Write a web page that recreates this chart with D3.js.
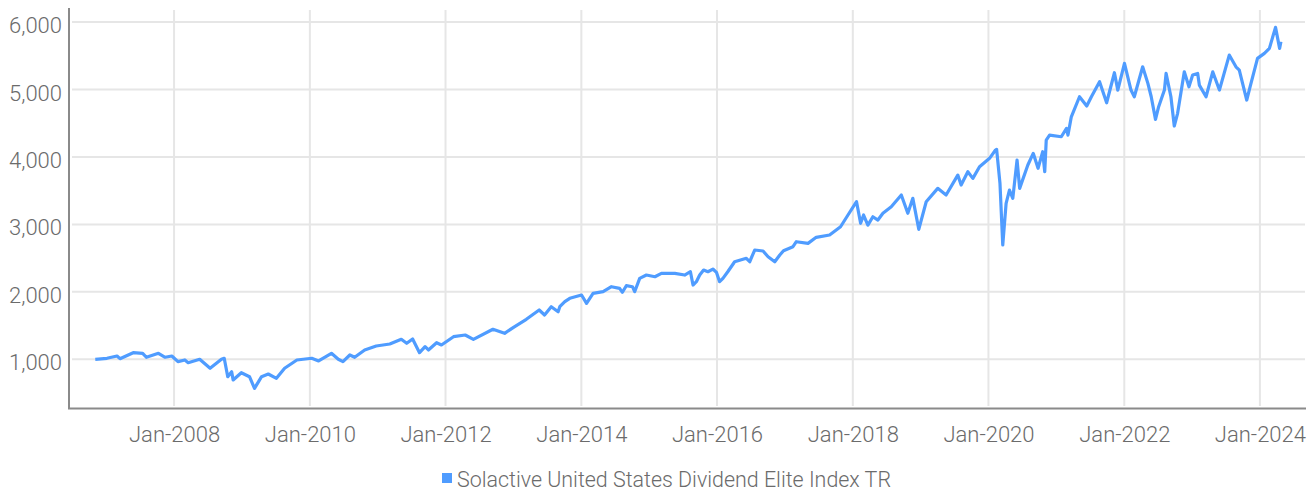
<!DOCTYPE html>
<html>
<head>
<meta charset="utf-8">
<script src="https://cdn.jsdelivr.net/npm/d3@7"></script>
<style>
  html, body { margin: 0; padding: 0; background: #fff; }
  svg { display: block; }
  text { font-family: Roboto, "Noto Sans", sans-serif; font-weight: 300; fill: #6b6b6b; }
</style>
</head>
<body>
<svg id="chart" width="1314" height="491"></svg>
<script>
const seriesName = "Solactive United States Dividend Elite Index TR";
const dates = [
"2006-11-03","2007-01-05","2007-02-28","2007-03-16","2007-05-26","2007-07-16","2007-08-05","2007-10-09","2007-11-14","2007-12-20",
"2008-01-22","2008-02-28","2008-03-17","2008-05-18","2008-07-13","2008-09-12","2008-09-27","2008-10-16","2008-11-06","2008-11-14",
"2008-12-28","2009-02-10","2009-03-09","2009-04-16","2009-05-22","2009-07-05","2009-08-18","2009-10-23","2010-01-11","2010-02-17",
"2010-04-27","2010-06-03","2010-06-28","2010-08-04","2010-08-30","2010-10-23","2010-12-24","2011-03-07","2011-05-08","2011-06-06",
"2011-07-08","2011-08-14","2011-09-13","2011-10-01","2011-11-14","2011-12-10","2012-02-13","2012-04-16","2012-05-30","2012-09-12",
"2012-11-14","2013-01-01","2013-03-11","2013-05-19","2013-06-17","2013-07-23","2013-08-29",
"2013-09-07","2013-10-04","2013-10-31","2014-01-02","2014-01-29","2014-03-05","2014-04-28","2014-06-12","2014-07-26","2014-08-10",
"2014-08-31","2014-10-03","2014-10-15","2014-11-11","2014-12-17","2015-02-01","2015-03-08","2015-05-19","2015-07-11","2015-08-11",
"2015-08-25","2015-09-12","2015-09-30","2015-10-21","2015-11-13","2015-12-10","2015-12-29","2016-01-15","2016-02-02","2016-02-28",
"2016-04-05","2016-06-07","2016-06-25","2016-07-22","2016-09-05","2016-10-02","2016-11-07","2016-12-04",
"2016-12-24","2017-02-13","2017-03-03","2017-05-05","2017-06-18","2017-08-29",
"2017-10-27","2017-12-06","2018-01-21","2018-02-12","2018-02-28","2018-03-23","2018-04-19","2018-05-16","2018-06-12","2018-07-27",
"2018-09-19","2018-10-24","2018-11-20","2018-12-22","2019-01-31","2019-04-03","2019-05-18","2019-07-20","2019-08-07","2019-09-12",
"2019-10-09","2019-11-14","2020-01-07","2020-02-08","2020-02-14",
"2020-03-03","2020-03-18","2020-04-05","2020-04-23","2020-05-11",
"2020-06-03","2020-06-17","2020-07-31","2020-08-29","2020-09-24","2020-10-19","2020-10-30",
"2020-11-07","2020-11-25","2021-01-27","2021-02-24","2021-03-04","2021-03-22","2021-05-05","2021-06-13","2021-07-08","2021-08-21",
"2021-09-28","2021-11-09","2021-11-27","2022-01-02","2022-02-06","2022-02-24","2022-04-10","2022-05-08","2022-05-26","2022-06-18",
"2022-07-05","2022-08-05","2022-08-14","2022-09-09","2022-09-27","2022-10-15","2022-11-20","2022-12-15","2023-01-04","2023-01-31",
"2023-02-09","2023-03-17","2023-04-22","2023-05-28","2023-07-20","2023-08-25","2023-09-12","2023-10-22","2023-11-09","2023-12-19",
"2024-01-25","2024-02-21","2024-03-25","2024-04-16","2024-04-23"
];
const values = [
1000,1015,1049,1009,1098,1089,1030,1089,1030,1049,
965,990,950,1000,867,1000,1015,742,816,693,
801,742,570,742,782,718,867,990,1015,975,
1089,1000,965,1064,1030,1138,1197,1227,1296,1237,
1301,1098,1187,1138,1246,1212,1335,1360,1296,1445,
1385,1474,1593,1731,1657,1780,1705,
1780,1854,1904,1953,1830,1978,2002,2076,2052,1993,
2091,2076,2002,2200,2249,2224,2274,2274,2249,2298,
2101,2150,2249,2323,2298,2338,2289,2150,2200,2298,
2446,2497,2446,2620,2605,2521,2446,2546,
2610,2669,2743,2719,2808,2842,
2965,3139,3336,3016,3139,2990,3113,3064,3164,3262,
3435,3164,3386,2927,3336,3534,3435,3731,3583,3780,
3682,3854,3979,4102,4112,
3608,2694,3312,3509,3386,
3954,3534,3880,4053,3831,4077,3780,
4250,4324,4299,4423,4324,4595,4892,4754,4892,5114,
4803,5248,4991,5387,4991,4892,5336,5090,4892,4557,
4744,4991,5238,4892,4458,4646,5262,5040,5213,5238,
5065,4892,5262,4991,5510,5336,5287,4843,5040,5461,
5535,5609,5920,5609,5707
];
const yTicks = [1000, 2000, 3000, 4000, 5000, 6000];
const xTickYears = [2008, 2010, 2012, 2014, 2016, 2018, 2020, 2022, 2024];
const xDomain = ["2006-06-20", "2024-09-05"];
const yDomain = [278, 6178];

const parse = d3.timeParse("%Y-%m-%d");
const data = dates.map((d, i) => ({ date: parse(d), value: values[i] }));

const svg = d3.select("#chart");
const x = d3.scaleTime().domain(xDomain.map(parse)).range([70, 1306]);
const y = d3.scaleLinear().domain(yDomain).range([408, 10]);

const grid = svg.append("g");
grid.selectAll("line.h").data(yTicks).join("line")
  .attr("class", "h")
  .attr("x1", 72).attr("x2", 1305)
  .attr("y1", d => y(d)).attr("y2", d => y(d))
  .attr("stroke", "#e6e6e6").attr("stroke-width", 2);
const xTicks = xTickYears.map(yr => new Date(yr, 0, 1));
grid.selectAll("line.v").data(xTicks).join("line")
  .attr("class", "v")
  .attr("x1", d => x(d)).attr("x2", d => x(d))
  .attr("y1", 10).attr("y2", 406)
  .attr("stroke", "#e6e6e6").attr("stroke-width", 2);

const yAxis = d3.axisLeft(y).tickValues(yTicks).tickSize(0).tickPadding(7)
  .tickFormat(d3.format(","));
const gy = svg.append("g").attr("transform", "translate(69,0)").call(yAxis);
gy.select(".domain").remove();
gy.selectAll("text").attr("font-size", 22).attr("dy", "0.48em")
  .style("font-family", "Roboto").style("font-weight", 300).attr("fill", "#6b6b6b");
svg.append("line").attr("x1", 69).attr("x2", 69).attr("y1", 8).attr("y2", 409)
  .attr("stroke", "#8a8a8a").attr("stroke-width", 2);

const xAxis = d3.axisBottom(x).tickValues(xTicks).tickSize(0).tickPadding(18)
  .tickFormat(d3.timeFormat("Jan-%Y"));
const gx = svg.append("g").attr("transform", "translate(0,408)").call(xAxis);
gx.select(".domain").remove();
gx.selectAll("text").attr("font-size", 22)
  .style("font-family", "Roboto").style("font-weight", 300).attr("fill", "#6b6b6b");
svg.append("line").attr("x1", 68).attr("x2", 1306).attr("y1", 408.5).attr("y2", 408.5)
  .attr("stroke", "#8a8a8a").attr("stroke-width", 2);

const line = d3.line().x(d => x(d.date)).y(d => y(d.value)).curve(d3.curveLinear);
svg.append("path").datum(data)
  .attr("fill", "none").attr("stroke", "#4f9cff").attr("stroke-width", 3.2)
  .attr("stroke-linejoin", "round").attr("d", line);

const lg = svg.append("g");
lg.append("rect").attr("x", 442).attr("y", 473).attr("width", 10).attr("height", 10).attr("fill", "#4f9cff");
lg.append("text").attr("x", 457).attr("y", 487).attr("font-size", 22)
  .attr("textLength", 434).attr("lengthAdjust", "spacingAndGlyphs").text(seriesName);
</script>
</body>
</html>
